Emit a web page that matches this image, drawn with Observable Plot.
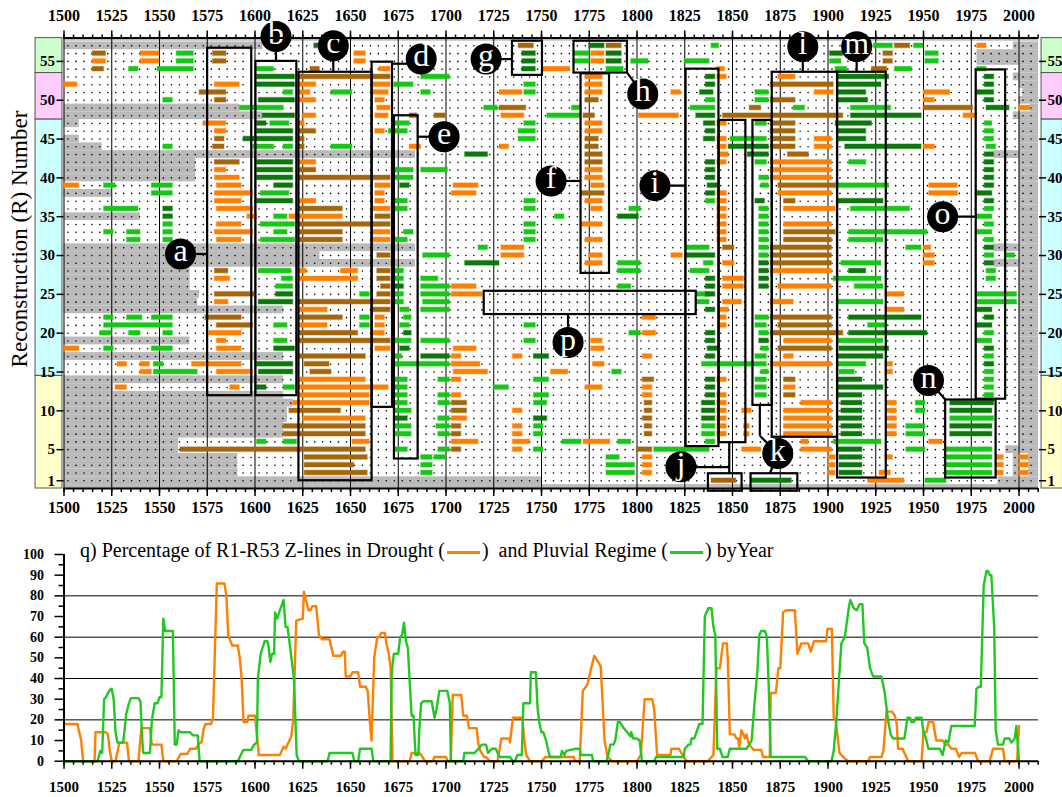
<!DOCTYPE html>
<html><head><meta charset="utf-8">
<script src="https://cdn.jsdelivr.net/npm/d3@7"></script>
<script src="https://cdn.jsdelivr.net/npm/@observablehq/plot@0.6"></script>
<style>
body{margin:0;background:#fff;}
#wrap{position:relative;width:1062px;height:797px;overflow:hidden;font-family:'Liberation Serif','Times New Roman',serif;background:#fff;}
#top{position:absolute;left:0;top:0;width:1062px;height:520px;}
#bot{position:absolute;left:0;top:530px;width:1062px;height:267px;}
#ylab{position:absolute;left:20px;top:239px;transform:translate(-50%,-50%) rotate(-90deg);white-space:nowrap;font-size:23px;color:#000;}
#title{position:absolute;left:80px;top:539px;font-size:20px;line-height:22px;white-space:nowrap;color:#000;}
.sw{display:inline-block;width:33px;height:3px;vertical-align:middle;margin:0 2px;}
</style></head><body>
<div id="wrap">
<div id="top"></div>
<div id="bot"></div>
<div id="ylab">Reconstruction (R) Number</div>
<div id="title">q) Percentage of R1-R53 Z-lines in Drought (<span class="sw" style="background:#ff8000"></span>)&nbsp; and Pluvial Regime (<span class="sw" style="background:#22c822"></span>) byYear</div>
</div>
<script>
const SERIF = "'Liberation Serif','Times New Roman',serif";
const X0 = 1500, X1 = 2010.2;

// ---- Drought regime (orange) : [R, [start,end], ...]
const droughtO = [
[57,[1978,1983]],
[56,[1540,1550],[1652,1658],[1776,1783]],
[55,[1515,1522],[1540,1550],[1652,1658],[1776,1783]],
[54,[1665,1671],[1751,1765],[1842,1846]],
[53,[1773,1782],[1842,1847],[1874,1883]],
[52,[1500,1507],[1579,1592],[1623,1632],[1662,1671],[1773,1782]],
[51,[1623,1629],[1662,1670],[1728,1740],[1773,1782],[1818,1823],[1893,1903],[1950,1964]],
[50,[1623,1632],[1663,1668],[1950,1956]],
[49,[1664,1671],[2000,2006]],
[48,[1625,1632],[1663,1670],[1729,1741],[1801,1822],[1971,1978]],
[47,[1573,1585],[1623,1626],[1773,1782],[1842,1847]],
[46,[1579,1585],[1663,1668],[1773,1782]],
[45,[1842,1847],[1893,1902]],
[44,[1681,1687],[1728,1733],[1842,1847],[1893,1902],[1950,1956]],
[43,[1843,1848]],
[42,[1623,1632],[1842,1847],[1870,1902]],
[41,[1579,1585],[1773,1782],[1870,1902]],
[40,[1579,1592],[1773,1782],[1870,1902]],
[39,[1500,1508],[1580,1593],[1663,1671],[1704,1717],[1776,1783],[1953,1968]],
[38,[1579,1599],[1663,1668],[1703,1716],[1842,1847],[1874,1902],[1953,1968]],
[37,[1579,1593],[1623,1632],[1663,1668],[1773,1782],[1842,1847]],
[36,[1580,1599],[1662,1671],[1776,1782],[1842,1847],[1877,1904]],
[35,[1596,1601],[1618,1646],[1842,1847]],
[34,[1580,1593],[1771,1782],[1842,1847],[1877,1902]],
[33,[1579,1599],[1662,1671],[1842,1847]],
[32,[1580,1593],[1662,1671],[1773,1782],[1842,1847]],
[31,[1729,1741],[1950,1954]],
[30,[1729,1741],[1775,1782],[1818,1824],[1950,1956]],
[29,[1773,1782],[1845,1851],[1950,1956]],
[28,[1623,1627],[1645,1654],[1870,1902]],
[27,[1579,1587],[1623,1654],[1845,1856]],
[26,[1703,1716],[1845,1856],[1874,1902]],
[25,[1703,1719],[1930,1940]],
[24,[1579,1586],[1845,1855],[1870,1882]],
[23,[1623,1638],[1843,1848],[1930,1940]],
[22,[1663,1668],[1803,1810],[1843,1847]],
[21,[1623,1638],[1663,1668],[1843,1847]],
[20,[1576,1593],[1662,1668],[1803,1810]],
[19,[1580,1585],[1776,1782],[1877,1902]],
[18,[1500,1508],[1580,1593],[1663,1671],[1704,1716],[1776,1783]],
[17,[1703,1708],[1735,1740],[1803,1808],[1877,1882]],
[16,[1528,1533],[1540,1545],[1567,1593],[1703,1718],[1777,1783],[1870,1902],[1930,1934]],
[15,[1540,1546],[1580,1599],[1704,1722],[1755,1764],[1930,1934]],
[14,[1623,1658],[1703,1708],[1842,1847]],
[13,[1527,1533],[1587,1592],[1623,1670],[1773,1782],[1803,1808],[1877,1883]],
[12,[1623,1660],[1703,1708],[1803,1808],[1842,1847]],
[11,[1620,1660],[1842,1847],[1886,1902],[1931,1936]],
[10,[1735,1740],[1842,1847],[1855,1860],[1877,1902],[1931,1936]],
[9,[1625,1658],[1703,1711],[1842,1847],[1877,1902],[1931,1936]],
[8,[1735,1740],[1842,1847],[1856,1859],[1877,1902],[1931,1936]],
[7,[1735,1740],[1842,1847],[1856,1859],[1877,1902],[1931,1936]],
[6,[1651,1660],[1703,1717],[1735,1744],[1772,1786],[1886,1890],[1953,1960]],
[5,[1735,1740],[1855,1865],[1886,1902]],
[4,[1803,1808],[1900,1904],[1930,1934],[1988,1992],[2000,2005]],
[3,[1803,1808],[1900,1904],[1988,1992],[2000,2005]],
[2,[1803,1808],[1900,1904],[1927,1933],[1988,1992],[2000,2005]],
[1,[1921,1940]]
];

// ---- Drought regime (brown)
const droughtB = [
[57,[1738,1746],[1784,1792],[1935,1943]],
[56,[1515,1522],[1578,1585],[1929,1934]],
[55,[1578,1585],[1929,1934]],
[54,[1515,1521],[1629,1634],[1923,1931]],
[53,[1623,1671]],
[52,[1870,1903]],
[51,[1571,1585]],
[50,[1579,1585],[1773,1780],[1870,1883]],
[49,[1728,1742],[1859,1865],[1950,1976]],
[48,[1681,1685],[1694,1700],[1772,1778],[1845,1908]],
[47,[1870,1883]],
[46,[1623,1632],[1870,1883]],
[45,[1579,1584],[1623,1626],[1773,1780],[1870,1883]],
[44,[1578,1584],[1623,1626],[1773,1780],[1870,1883]],
[43,[1773,1782],[1879,1890]],
[42,[1579,1592],[1773,1782]],
[41,[1623,1632]],
[40,[1623,1671]],
[39,[1874,1904]],
[38,[1771,1783]],
[37,[1877,1883]],
[36,[1623,1646]],
[35,[1663,1671]],
[34,[1623,1671]],
[33,[1623,1646],[1877,1904]],
[32,[1623,1646],[1877,1902]],
[31,[1845,1851],[1870,1902]],
[30,[1664,1671],[1870,1902]],
[29,[1870,1902]],
[28,[1579,1586],[1664,1671]],
[27,[1664,1671]],
[26,[1666,1671]],
[25,[1579,1600],[1664,1671]],
[24,[1623,1671]],
[23,[1662,1671]],
[22,[1574,1593],[1623,1646],[1870,1902]],
[21,[1580,1599],[1874,1902]],
[20,[1623,1654],[1870,1908]],
[19,[1623,1671]],
[18,[1874,1902]],
[17,[1623,1658]],
[16,[1626,1639]],
[15,[1629,1640]],
[14,[1803,1809],[1877,1883]],
[12,[1877,1883]],
[11,[1703,1711],[1804,1808]],
[10,[1618,1645],[1703,1711],[1804,1808]],
[9,[1803,1808]],
[8,[1615,1658],[1703,1708],[1804,1808]],
[7,[1615,1658],[1703,1708],[1804,1808]],
[5,[1561,1658],[1703,1708],[1800,1808]],
[4,[1626,1659]],
[3,[1626,1652]],
[2,[1626,1659]],
[1,[1839,1852]]
];

// ---- Pluvial regime (green)
const pluvialG = [
[57,[1839,1843],[1924,1934],[1945,1950]],
[56,[1559,1568],[1767,1775],[1951,1958]],
[55,[1559,1568],[1767,1775],[1797,1806],[1825,1838],[1901,1907],[1951,1958]],
[54,[1534,1539],[1549,1568],[1601,1610],[1784,1793],[1904,1910],[1935,1944],[1978,1983]],
[53,[1687,1702]],
[52,[1673,1683],[1741,1747]],
[51,[1615,1620],[1640,1651],[1687,1692],[1741,1747],[1862,1869]],
[50,[1552,1557],[1836,1841],[1862,1869]],
[49,[1592,1615],[1720,1727],[1766,1771],[1828,1841],[1882,1888],[1912,1933]],
[48,[1753,1771]],
[47,[1608,1618],[1673,1681],[1741,1747],[1862,1868],[1982,1986]],
[46,[1670,1680],[1738,1747],[1982,1987]],
[45,[1738,1747],[1849,1868],[1982,1987]],
[44,[1552,1557],[1599,1610],[1615,1620],[1640,1651],[1983,1988]],
[42,[1862,1868],[1911,1920]],
[41,[1673,1683],[1687,1701]],
[40,[1673,1683],[1864,1869]],
[39,[1521,1527],[1546,1557],[1865,1869],[1904,1932]],
[38,[1546,1557],[1603,1618]],
[37,[1672,1680],[1741,1747],[1836,1841]],
[36,[1521,1539],[1672,1680],[1741,1747],[1796,1802],[1864,1869],[1912,1943],[1982,1987]],
[35,[1610,1617],[1757,1762],[1864,1869],[1978,1986]],
[34,[1552,1557],[1603,1621],[1741,1747],[1864,1869],[1982,1987]],
[33,[1521,1526],[1533,1540],[1552,1557],[1610,1617],[1678,1683],[1741,1747],[1864,1869],[1911,1952],[1978,1986]],
[32,[1533,1540],[1552,1557],[1603,1621],[1673,1680],[1741,1747],[1864,1869],[1911,1929],[1982,1987]],
[31,[1717,1722],[1825,1838],[1864,1869],[1941,1949]],
[30,[1688,1702],[1864,1869],[1982,1987],[1993,1998]],
[29,[1790,1802],[1835,1840],[1907,1928]],
[28,[1602,1619],[1673,1678],[1790,1802],[1828,1838],[1983,1988]],
[27,[1614,1620],[1673,1678],[1687,1696],[1903,1928],[1983,1988]],
[26,[1611,1620],[1687,1702],[1790,1797],[1914,1929]],
[25,[1655,1660],[1673,1678],[1687,1702],[1831,1838],[1978,1999]],
[24,[1673,1678],[1688,1702],[1831,1838],[1905,1929],[1978,1999]],
[23,[1676,1681],[1687,1702]],
[22,[1521,1526],[1533,1541],[1546,1557],[1655,1660],[1678,1682],[1862,1869]],
[21,[1521,1557],[1610,1617],[1655,1660],[1676,1681],[1741,1747],[1862,1868],[1921,1930]],
[20,[1519,1525],[1534,1540],[1552,1557],[1796,1802],[1864,1869],[1982,1987]],
[19,[1610,1617],[1673,1682],[1687,1702],[1741,1747],[1905,1929],[1978,1986]],
[18,[1521,1526],[1546,1557],[1865,1869]],
[17,[1673,1677],[1862,1868],[1982,1987]],
[16,[1547,1552],[1673,1702],[1834,1868],[1905,1920]],
[15,[1547,1570],[1787,1792],[1865,1869],[1906,1914],[1982,1987]],
[14,[1673,1680],[1696,1702],[1746,1754],[1862,1868],[1982,1987]],
[13,[1615,1621],[1673,1680],[1725,1733],[1862,1868],[1982,1987]],
[12,[1673,1680],[1696,1702],[1746,1754],[1862,1868],[1982,1987]],
[11,[1673,1680],[1696,1702],[1746,1753],[1946,1951]],
[10,[1673,1682],[1946,1951]],
[9,[1696,1702],[1964,1987]],
[8,[1673,1682],[1695,1702],[1746,1751],[1834,1841],[1941,1951]],
[7,[1673,1682],[1696,1702],[1746,1751],[1834,1841],[1941,1951]],
[6,[1601,1606],[1615,1622],[1761,1771],[1790,1797],[1836,1841],[1903,1928]],
[5,[1673,1680],[1696,1702],[1746,1751],[1809,1838],[1941,1951],[1962,1986]],
[4,[1687,1693],[1694,1700],[1784,1791],[1962,1986]],
[3,[1687,1693],[1784,1799],[1962,1986]],
[2,[1687,1693],[1784,1799],[1962,1986]],
[1,[1951,1962]]
];

// ---- Pluvial regime (dark green)
const pluvialD = [
[57,[1631,1634],[1775,1783]],
[56,[1740,1747],[1784,1792],[1901,1908]],
[55,[1740,1747],[1784,1792]],
[54,[1740,1747]],
[53,[1601,1621],[1836,1841],[1905,1932],[1982,1987]],
[52,[1601,1621],[1836,1841],[1905,1928],[1982,1987]],
[51,[1833,1840],[1905,1920],[1978,1987]],
[50,[1602,1621],[1905,1921],[1982,1987]],
[49,[1983,1995]],
[48,[1604,1621],[1831,1841],[1912,1949]],
[47,[1601,1606],[1835,1841],[1904,1923]],
[46,[1601,1620],[1836,1841],[1905,1920]],
[45,[1594,1620],[1835,1841],[1905,1920]],
[44,[1848,1869],[1909,1949]],
[43,[1710,1722],[1858,1869],[1982,1987]],
[42,[1601,1620],[1836,1841],[1982,1987]],
[41,[1601,1620],[1836,1841],[1982,1987]],
[40,[1601,1620],[1836,1841],[1982,1987]],
[39,[1610,1620],[1676,1681],[1837,1843],[1982,1987]],
[38,[1836,1841],[1978,1986]],
[37,[1601,1620],[1862,1867],[1905,1929],[1982,1987]],
[36,[1552,1557]],
[35,[1552,1557],[1790,1801]],
[31,[1982,1987]],
[30,[1826,1841]],
[29,[1710,1728],[1864,1869],[1982,1987]],
[28,[1864,1869],[1911,1920]],
[27,[1836,1841],[1864,1869]],
[26,[1673,1678],[1836,1841],[1864,1869]],
[25,[1611,1620],[1836,1841]],
[24,[1602,1620]],
[23,[1836,1841],[1978,1986]],
[22,[1911,1949],[1982,1987]],
[21,[1978,1986]],
[20,[1678,1682],[1836,1841],[1911,1952]],
[19,[1836,1841],[1864,1869]],
[18,[1610,1621],[1676,1681],[1837,1843],[1906,1932],[1982,1987]],
[17,[1687,1702],[1746,1754],[1836,1841],[1905,1929]],
[16,[1601,1620],[1982,1987]],
[15,[1602,1620]],
[14,[1836,1841],[1905,1918]],
[13,[1601,1606],[1836,1841],[1905,1929]],
[12,[1836,1841],[1905,1918]],
[11,[1834,1841],[1907,1918],[1964,1987]],
[10,[1834,1841],[1907,1918],[1964,1986]],
[9,[1673,1680],[1746,1753],[1834,1841],[1905,1918]],
[8,[1907,1918],[1964,1986]],
[7,[1907,1918],[1964,1986]],
[5,[1905,1918]],
[4,[1906,1918]],
[3,[1906,1918]],
[2,[1906,1918]],
[1,[1860,1881]]
];

// ---- Missing data (gray)
const missing = [
[57,[1500,1604],[1997,2010.2]],[56,[1978,2010.2]],[55,[1978,2010.2]],[54,[2000,2010.2]],
[53,[1997,2010.2]],[52,[2000,2010.2]],[51,[2002,2010.2]],[50,[2000,2010.2]],
[49,[1500,1592],[2006,2010.2]],[48,[1500,1604],[1997,2010.2]],[47,[1500,1508],[2000,2010.2]],
[46,[2000,2010.2]],[45,[1500,1508],[2000,2010.2]],[44,[1500,1520],[2000,2010.2]],
[43,[1500,1684],[1987,2010.2]],[42,[1500,1569],[2000,2010.2]],[41,[1500,1569],[2000,2010.2]],
[40,[1500,1569],[2000,2010.2]],[39,[2000,2010.2]],[38,[1500,1525],[2000,2010.2]],
[37,[2000,2010.2]],[36,[2000,2010.2]],[35,[1500,1540],[2000,2010.2]],[34,[2000,2010.2]],
[33,[2000,2010.2]],[32,[2000,2010.2]],[31,[1500,1684],[1987,2010.2]],[30,[1500,1634],[2000,2010.2]],
[29,[1500,1684],[1987,2010.2]],[28,[1500,1566],[2000,2010.2]],[27,[1500,1566],[2000,2010.2]],
[26,[1500,1566],[2000,2010.2]],[25,[1500,1571],[2000,2010.2]],[24,[1500,1570],[2000,2010.2]],
[23,[1500,1615],[2000,2010.2]],[22,[2000,2010.2]],[21,[2000,2010.2]],[20,[2000,2010.2]],
[19,[1500,1566],[2000,2010.2]],[18,[2000,2010.2]],[17,[1500,1615],[2000,2010.2]],
[16,[2000,2010.2]],[15,[2000,2010.2]],[14,[1500,1615],[2000,2010.2]],[13,[1500,1526],[2000,2010.2]],
[12,[1500,1615],[2000,2010.2]],[11,[1500,1620],[2000,2010.2]],[10,[1500,1617],[2000,2010.2]],
[9,[1500,1617],[2000,2010.2]],[8,[1500,1615],[2000,2010.2]],[7,[1500,1615],[2000,2010.2]],
[6,[1500,1560],[2000,2010.2]],[5,[1500,1560],[1993,2010.2]],
[4,[1500,1591],[1997,2000],[2005,2010.2]],[3,[1500,1591],[1997,2000],[2005,2010.2]],
[2,[1500,1591],[1997,2000],[2005,2010.2]],[1,[1500,1750],[1989,2010.2]]
];
const edgeMissing = [{y1:57.6, y2:58}, {y1:0, y2:0.5}];

// R-groups shown as coloured side bands
const regions = [
 {lo:53.5, hi:58, fill:"#ccffcc"},
 {lo:47.5, hi:53.5, fill:"#ffccff"},
 {lo:14.5, hi:47.5, fill:"#ccffff"},
 {lo:0, hi:14.5, fill:"#ffffcc"}
];
const rTicks = [1,5,10,15,20,25,30,35,40,45,50,55];
const pctTicks = [0,10,20,30,40,50,60,70,80,90,100];
const yearTicks = d3.range(1500, 2001, 25);
const minorYearTicks = d3.range(1500, 2011, 5);

// labelled boxes: [name, x1, x2, y1, y2]
const boxes = [
 ["a",1575.2,1598.3,11.95,56.7],["b",1600.5,1621.9,11.95,55.0],["c",1623,1661.3,1.0,53.6],
 ["d",1661.3,1672,10.45,54.9],["e",1673,1685.4,3.8,48.0],["f",1770.7,1785.6,27.7,53.4],
 ["g",1734.8,1750.5,53.2,57.6],["h",1767,1795,53.5,57.6],["i",1825.7,1842.9,5.4,54.0],
 ["i2",1843,1857,5.9,47.4],["j",1837.4,1855,-0.35,1.9],["k1",1860.7,1870.8,10.7,47.4],
 ["k",1859.7,1884.2,-0.35,1.9],["l",1870.8,1905,6.6,53.6],["m",1905,1930.5,1.35,53.6],
 ["n",1961.6,1988,1.35,11.4],["o",1977.6,1993,11.5,53.9],["p",1720,1831,22.4,25.4]
];
const connectors = [
 [1561,30.2,1575.2,30.2],[1611,58.2,1611,55.0],[1641,57,1641,53.6],[1672,54.7,1687,54.7],
 [1685.4,45.3,1699,45.3],[1755,39.6,1770.7,39.6],[1721,55.3,1734.8,55.3],[1795,53.5,1803,50.8],
 [1809.4,39,1825.7,39],[1823,2.75,1848.3,2.75],[1848.3,5.9,1848.3,1.9],[1864.3,10.7,1864.3,6.8],
 [1864.3,6.8,1873.7,4.5],[1873.7,4.5,1869.5,1.9],[1886.8,56.9,1886.8,53.6],[1915,56.9,1915,53.6],
 [1952.6,13.9,1961.6,11.4],[1960,35,1977.6,35],[1763.9,18.8,1763.9,22.4]
];
const labels = [
 ["a",1561,30.2],["b",1611,58.2],["c",1641,57],["d",1687,55.3],["e",1699,45.3],["f",1755,39.6],
 ["g",1721,55.3],["h",1803,50.8],["i",1809.4,39],["j",1823,2.8],["k",1873.7,4.5],["l",1886.8,56.9],
 ["m",1915,56.9],["n",1952.6,13.9],["o",1960,35],["p",1763.9,18.8]
];

// ---- q) percentage series [year, %]
const droughtPct = [[1500,18],[1507,18],[1509,10],[1510,0],[1516,0],[1516.5,14],[1522,14],[1523,13],[1524,5],[1525,0],[1527,0],[1529,9],[1533,9],[1534,0],[1539,0],[1540.5,16],[1545,16],[1546,8],[1551,8],[1552,0],[1559,0],[1561,3.5],[1564.5,3.5],[1566,6],[1569,6],[1571,9],[1572,9],[1573,15],[1574,18],[1577,18],[1578,21],[1580,86],[1584,86],[1585,80],[1586,61],[1588,56],[1591,56],[1592,50],[1593,40],[1594,19],[1596,19],[1596.5,22],[1600,22],[1602,3],[1613,3],[1615,7],[1616,6],[1618,10],[1619,12],[1620,20],[1621.6,68],[1625,69],[1625.6,82],[1628,73],[1629,73],[1630,75],[1632,75],[1633.5,61],[1635,59],[1639,59],[1640,55],[1641,51],[1645,51],[1646,53],[1647,53],[1647.5,41],[1650,41],[1651,43],[1654,43],[1655,36],[1658,36],[1659,34],[1660,21],[1661,10],[1662.4,50],[1664,60],[1665,60],[1666,62],[1668,62],[1669,56],[1670,52],[1671,45],[1672,0],[1681,0],[1682,4],[1686,4],[1687,3],[1689,0],[1693,0],[1694,2],[1700,2],[1701,0],[1702.5,0],[1703.5,32],[1708,32],[1709,22],[1711,22],[1712,16],[1716,16],[1717,8],[1718,5],[1720,2],[1721,2],[1723,0],[1727,0],[1729,11],[1733,11],[1733.5,9],[1735,21],[1740,21],[1741,10],[1742,3],[1744,0],[1750,0],[1752,2],[1767,2],[1767.5,0],[1770,0],[1771.6,34],[1774,37],[1776,45],[1777.6,51],[1779,49],[1781,46],[1783,10],[1784.6,2],[1787,0],[1800,0],[1802,3],[1804,30],[1808,30],[1809,25],[1810.5,3],[1817.5,3],[1818,6],[1822,6],[1824.5,2],[1826,0],[1837,0],[1839,2],[1840,3],[1841.6,45],[1843.4,45],[1845,57],[1847,57],[1847.5,50],[1848.6,13],[1851,13],[1852,11],[1853,11],[1853.5,7],[1854.7,15],[1856.5,11],[1857.3,13],[1858.3,9],[1859.6,7],[1861,5.5],[1865,5.5],[1866,2],[1869.5,2],[1870,33],[1872.7,33],[1874,45],[1875,45],[1876.5,72],[1878,73],[1882.6,73],[1884,52],[1886,57],[1889.6,57],[1891,53],[1892.6,58],[1899,58],[1899.7,64],[1902,64],[1903,21],[1904,20],[1906,4],[1908,2],[1910.5,0],[1921,0],[1922,2],[1928,2],[1929,5],[1930.6,24],[1933.5,24],[1935,22],[1936,18],[1936.7,6],[1939,6],[1941,2],[1942,0],[1949,0],[1950,14],[1951.5,14],[1952.7,19],[1955,19],[1956.7,10],[1960,10],[1961.6,8],[1963,8],[1964.6,6],[1967,6],[1968.6,2],[1970,4],[1977,4],[1978.5,0],[1984.6,0],[1986.4,6],[1991.6,6],[1992.5,0],[1999,0],[2000,17]];

const pluvialPct = [[1500,0],[1517.5,0],[1519,5],[1520,4],[1521,30],[1522,31],[1523,33],[1524.4,35],[1525,35],[1526,30],[1527,14],[1528,9],[1531,9],[1532.6,23],[1534,28],[1535,30.5],[1539,30.5],[1540,29],[1541,10],[1541.5,4],[1545,4],[1546,20],[1547.5,28],[1549,28],[1550,31],[1551,31],[1552,69],[1553,63],[1557,63],[1558,8],[1559,8],[1560,15],[1561,14],[1566,14],[1567.5,12.5],[1570,12.5],[1571,0],[1591,0],[1592.5,3],[1594,5.5],[1598,5.5],[1599.5,8],[1601,9],[1601.5,40],[1603,52],[1605,58],[1606.5,58],[1607,56],[1608,48],[1609,52],[1610,52],[1610.5,72],[1611.6,69],[1613,73],[1615,78],[1616,65],[1617,65],[1618,58],[1620.4,40],[1621.8,3],[1623,0],[1638,0],[1639,4],[1651,4],[1652,0],[1654,0],[1655,6],[1661,6],[1662,0],[1671,0],[1671.5,40],[1672,47],[1672.7,52],[1675,52],[1676,60],[1677,61],[1678,67],[1679,58],[1680,55],[1681.5,30],[1682,22],[1683,22],[1684,3],[1685.5,3],[1686,15],[1687,28],[1688,29],[1692.5,29],[1694,21],[1695,25],[1696.5,34],[1700.7,34],[1702,28],[1702.6,0],[1709,0],[1709.6,4],[1715,4],[1717,6],[1718.7,8],[1721,8],[1722,4],[1724,6],[1726,6],[1728,2],[1733.5,2],[1735,0],[1736,0],[1737.4,3],[1739.7,3],[1740.5,28],[1744,28],[1744.4,43],[1747,43],[1748,25],[1749,18],[1750,14],[1751,14],[1752.4,10],[1753.6,5],[1754.5,2],[1760,2],[1760.7,5],[1762,3],[1763,5],[1767.6,6],[1770,6],[1770.6,3],[1776.4,3],[1777,0],[1784,0],[1785,3],[1786,8],[1787.7,8],[1788.6,10],[1790,19],[1791,19],[1793,16],[1795,14],[1796.5,12],[1797,14],[1798,11],[1800,11],[1801.4,10],[1802.6,0],[1809,0],[1810,2],[1824.5,2],[1825,6],[1827,8],[1828,8],[1828.5,11],[1830,11],[1831.5,15],[1832.6,18],[1834.3,18],[1835.5,70],[1837.3,74],[1839,74],[1840,65],[1841,61],[1842,6],[1843.4,6],[1844.8,2],[1847.5,2],[1848.6,6],[1857.3,6],[1858,7],[1860,10],[1861.7,30],[1863,43],[1864,61],[1865,63],[1867,63],[1868,60],[1869,35],[1870,2],[1888,2],[1889.6,0],[1901.8,0],[1903,5],[1904.4,20],[1905.8,40],[1907,57],[1908.8,60],[1911,75],[1911.7,78],[1913.5,74],[1915,73],[1916.6,76],[1918,76],[1919,57],[1920.5,55],[1922,45],[1923.6,41],[1928,41],[1929.7,33],[1931.4,20],[1932.8,13],[1934,11],[1940,11],[1941.6,21],[1943,21],[1943.6,19],[1945,19],[1946,21],[1949,21],[1950,14],[1951,12],[1952.6,6],[1958.5,6],[1960,3],[1961.6,10],[1963,9],[1964.6,17],[1976.8,17],[1977.7,35],[1979,36],[1980,36],[1981.5,85],[1983,92],[1983.8,92],[1984.6,90],[1985.5,90],[1987,65],[1987.8,15],[1989,8],[1991.6,8],[1992.5,11],[1995,11],[1996,9],[1997,10],[1997.7,11],[1998.6,17],[2000,0]];

// ---------- helpers
const flat = arr => arr.flatMap(([r, ...segs]) => segs.map(([s, e]) => ({r, s, e})));
const H = 0.3;
const COL = {O:"#ff7f00", B:"#a5660a", G:"#16c816", D:"#0a780a", gray:"#bababa"};
const barMark = (arr, c) => Plot.rect(flat(arr), {x1:"s", x2:"e", y1:d => d.r - H, y2:d => d.r + H, fill:c, stroke:c, strokeOpacity:0.3, strokeWidth:1.5});
const LB = [1485.1, 1499.2], RB = [2011.8, 2023];
const noLabel = () => "";
const tickText = (data, opts) => Plot.text(data, {text:d => String(d), fontSize:16, fontWeight:"bold", fontFamily:SERIF, fill:"black", ...opts});

// dot grid
const gridDots = [];
for (let r = 1; r <= 57; r++) for (let y = 1500 + 25/12; y < 2010; y += 25/6) gridDots.push({r, y});

const topPlot = Plot.plot({
  width:1062, height:520, marginTop:37.6, marginBottom:32, marginLeft:63.5, marginRight:24,
  x:{domain:[X0, X1]}, y:{domain:[0, 58]},
  style:{fontFamily:SERIF, background:"transparent", overflow:"visible", color:"black"},
  marks:[
    ...regions.map(g => Plot.rect([g], {x1:LB[0], x2:LB[1], y1:"lo", y2:"hi", fill:g.fill, stroke:"#555", strokeWidth:1})),
    ...regions.map(g => Plot.rect([g], {x1:RB[0], x2:RB[1], y1:"lo", y2:"hi", fill:g.fill, stroke:"#555", strokeWidth:1})),
    Plot.rect(flat(missing), {x1:"s", x2:"e", y1:d => d.r - 0.5, y2:d => d.r + 0.5, fill:COL.gray}),
    Plot.rect(edgeMissing, {x1:X0, x2:X1, y1:"y1", y2:"y2", fill:COL.gray}),
    Plot.dot(gridDots, {x:"y", y:"r", r:0.8, fill:"black", stroke:null}),
    Plot.ruleX(yearTicks, {y1:0, y2:58, stroke:"black", strokeWidth:1}),
    barMark(droughtO, COL.O),
    barMark(droughtB, COL.B),
    barMark(pluvialG, COL.G),
    barMark(pluvialD, COL.D),
    Plot.rect(boxes, {x1:d => d[1], x2:d => d[2], y1:d => d[3], y2:d => d[4], fill:"none", stroke:"black", strokeWidth:2.2}),
    Plot.link(connectors, {x1:d => d[0], y1:d => d[1], x2:d => d[2], y2:d => d[3], stroke:"black", strokeWidth:2.2}),
    Plot.dot(labels, {x:d => d[1], y:d => d[2], r:15.5, fill:"black", stroke:null}),
    Plot.text(labels, {x:d => d[1], y:d => d[2], text:d => d[0], fill:"white", fontSize:32, fontWeight:"normal", fontFamily:SERIF, dy:-3}),
    Plot.ruleY([58], {stroke:"black", strokeWidth:2}),
    Plot.ruleY([0], {stroke:"black", strokeWidth:2}),
    Plot.axisX({anchor:"top", ticks:yearTicks, tickSize:8, tickFormat:noLabel, strokeWidth:1.5, label:null}),
    Plot.axisX({anchor:"top", ticks:minorYearTicks, tickSize:4, tickFormat:noLabel, strokeWidth:1.5, label:null}),
    Plot.axisX({anchor:"bottom", ticks:yearTicks, tickSize:8, tickFormat:noLabel, strokeWidth:1.5, label:null}),
    Plot.axisX({anchor:"bottom", ticks:minorYearTicks, tickSize:4, tickFormat:noLabel, strokeWidth:1.5, label:null}),
    Plot.axisY({anchor:"left", ticks:rTicks, tickSize:7, tickFormat:noLabel, strokeWidth:1.5, label:null}),
    Plot.axisY({anchor:"right", ticks:rTicks, tickSize:7, tickFormat:noLabel, strokeWidth:1.5, label:null}),
    tickText(yearTicks, {x:d => d, y:58, dy:-22}),
    tickText(yearTicks, {x:d => d, y:0, dy:19}),
    tickText(rTicks, {x:X0, y:d => d, dx:-9, textAnchor:"end", fontSize:15}),
    tickText(rTicks, {x:X1, y:d => d, dx:9, textAnchor:"start", fontSize:15})
  ]
});
document.getElementById("top").appendChild(topPlot);

const botPlot = Plot.plot({
  width:1062, height:267, marginTop:24, marginBottom:36.3, marginLeft:63.5, marginRight:24,
  x:{domain:[X0, X1]}, y:{domain:[0, 100]},
  style:{fontFamily:SERIF, background:"transparent", overflow:"visible", color:"black"},
  marks:[
    Plot.ruleY([20,40,60,80], {stroke:"black", strokeWidth:1}),
    Plot.line(droughtPct, {x:d => d[0], y:d => d[1], stroke:"#ff8000", strokeWidth:2.4}),
    Plot.line(pluvialPct, {x:d => d[0], y:d => d[1], stroke:"#22c822", strokeWidth:2.4}),
    Plot.ruleX([1500], {y1:0, y2:100, stroke:"black", strokeWidth:2}),
    Plot.ruleY([0], {stroke:"black", strokeWidth:2}),
    Plot.axisY({anchor:"left", ticks:pctTicks, tickSize:9, tickFormat:noLabel, strokeWidth:1.5, label:null}),
    Plot.axisY({anchor:"left", ticks:d3.range(5, 100, 10), tickSize:5, tickFormat:noLabel, strokeWidth:1.5, label:null}),
    Plot.axisX({anchor:"bottom", ticks:yearTicks, tickSize:8, tickFormat:noLabel, strokeWidth:1.5, label:null}),
    Plot.axisX({anchor:"bottom", ticks:minorYearTicks, tickSize:4, tickFormat:noLabel, strokeWidth:1.5, label:null}),
    tickText(pctTicks, {x:X0, y:d => d, dx:-20, textAnchor:"end", fontSize:14}),
    tickText(yearTicks, {x:d => d, y:0, dy:26, fontSize:15})
  ]
});
document.getElementById("bot").appendChild(botPlot);
</script>
</body></html>
